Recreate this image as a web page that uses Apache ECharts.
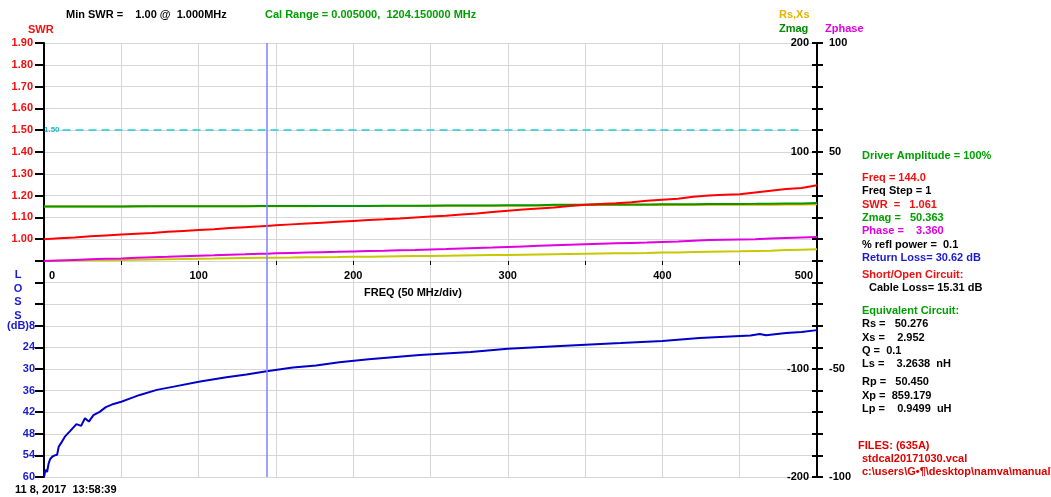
<!DOCTYPE html>
<html>
<head>
<meta charset="utf-8">
<script src="https://cdn.jsdelivr.net/npm/echarts@6/dist/echarts.min.js"></script>
<style>
html, body { margin: 0; padding: 0; background: #ffffff; }
#chart { width: 1051px; height: 497px; }
</style>
</head>
<body>
<div id="chart"></div>
<script>
// Sweep frequencies (MHz); 144.0 is the cursor point
const freqMHz = [0, 10, 20, 30, 40, 50, 60, 70, 80, 90, 100, 110, 120, 130, 140, 144,
  150, 160, 170, 180, 190, 200, 210, 220, 230, 240, 250, 260, 270, 280, 290, 300,
  310, 320, 330, 340, 350, 360, 370, 380, 390, 400, 410, 420, 430, 440, 450, 460,
  470, 480, 490, 500];

const swrValues = [1.000, 1.004, 1.008, 1.013, 1.017, 1.021, 1.025, 1.029, 1.034, 1.038,
  1.042, 1.046, 1.051, 1.055, 1.059, 1.061, 1.064, 1.068, 1.072, 1.076, 1.080, 1.084,
  1.088, 1.091, 1.095, 1.100, 1.104, 1.108, 1.113, 1.118, 1.125, 1.131, 1.136, 1.141,
  1.145, 1.152, 1.158, 1.162, 1.165, 1.170, 1.176, 1.181, 1.186, 1.195, 1.200, 1.204,
  1.206, 1.214, 1.222, 1.230, 1.235, 1.247];

const zmagValues = [50.00, 50.02, 50.04, 50.06, 50.08, 50.10, 50.12, 50.14, 50.17, 50.19,
  50.21, 50.24, 50.27, 50.31, 50.35, 50.363, 50.38, 50.41, 50.44, 50.47, 50.50, 50.53,
  50.57, 50.75, 50.70, 50.72, 50.80, 50.85, 50.90, 50.95, 51.00, 51.05, 51.10, 51.20,
  51.60, 51.65, 51.70, 51.75, 51.80, 51.85, 51.90, 51.95, 52.00, 52.05, 52.30, 52.35,
  52.40, 52.45, 52.55, 52.70, 52.80, 53.20];

const rsValues = [50.00, 50.02, 50.04, 50.05, 50.07, 50.09, 50.11, 50.12, 50.14, 50.16,
  50.17, 50.19, 50.21, 50.24, 50.27, 50.276, 50.29, 50.31, 50.33, 50.35, 50.36, 50.38,
  50.41, 50.57, 50.51, 50.52, 50.59, 50.62, 50.65, 50.68, 50.71, 50.74, 50.77, 50.85,
  51.23, 51.25, 51.28, 51.30, 51.33, 51.35, 51.37, 51.38, 51.40, 51.40, 51.61, 51.63,
  51.64, 51.64, 51.69, 51.75, 51.78, 52.10];

const xsValues = [0, 0.2, 0.4, 0.6, 0.8, 1.0, 1.2, 1.4, 1.6, 1.8, 2.0, 2.2, 2.45, 2.7, 2.9,
  2.952, 3.05, 3.2, 3.4, 3.55, 3.7, 3.9, 4.0, 4.2, 4.35, 4.5, 4.6, 4.8, 5.0, 5.2, 5.4,
  5.6, 5.8, 6.0, 6.2, 6.4, 6.6, 6.8, 7.0, 7.2, 7.4, 7.7, 7.9, 8.2, 8.5, 8.7, 8.9, 9.2,
  9.5, 10.0, 10.4, 10.8];

const phaseValues = [0, 0.25, 0.5, 0.75, 1.0, 1.2, 1.45, 1.7, 1.9, 2.15, 2.4, 2.6, 2.85,
  3.05, 3.3, 3.36, 3.5, 3.7, 3.9, 4.05, 4.2, 4.4, 4.55, 4.7, 4.9, 5.05, 5.3, 5.5, 5.75,
  6.0, 6.2, 6.45, 6.7, 6.95, 7.2, 7.45, 7.7, 7.9, 8.1, 8.3, 8.5, 8.75, 9.0, 9.3, 9.6,
  9.8, 9.9, 10.0, 10.3, 10.6, 10.8, 11.0];

// Return loss trace, sampled more densely at the low end
const lossFreqMHz = [0, 1, 2, 3, 4, 5.5, 7, 8.5, 9.5, 11, 13.5, 17, 21, 24, 26.5, 29, 32,
  36, 40, 45, 50, 55, 62, 73, 84, 101, 118, 131, 144, 161, 176, 191, 210, 243, 276,
  300, 334, 373, 400, 424, 457, 463, 467, 480, 490, 500];
const returnLossDb = [60, 58, 58.6, 56.2, 55, 54.3, 54.0, 53.8, 51.6, 50.6, 48.8, 47.2,
  45.3, 45.8, 43.7, 44.6, 42.8, 41.9, 40.6, 39.7, 39.1, 38.3, 37.2, 35.8, 34.9, 33.5,
  32.3, 31.5, 30.62, 29.6, 29.0, 28.1, 27.3, 26.1, 25.3, 24.4, 23.6, 22.8, 22.2, 21.4,
  20.7, 20.3, 20.6, 20.0, 19.7, 19.2];

// Cursor readout
const CURSOR_FREQ = 144.0;
const SWR_LIMIT = 1.50;
const readout = {
  swr: 1.061, zmag: 50.363, phase: 3.360, reflPower: 0.1, returnLoss: 30.62,
  cableLoss: 15.31, rs: 50.276, xs: 2.952, q: 0.1, ls: 3.2638, rp: 50.450,
  xp: 859.179, lp: 0.9499
};

const FAMILY = '"Liberation Sans", Arial, sans-serif';
const FONT = 'bold 11px ' + FAMILY;
const C_RED = '#f01010', C_GREEN = '#00a000', C_DKGREEN = '#008a00',
  C_MAG = '#e000e0', C_BLUE = '#1a1ad0', C_ORANGE = '#e8b000', C_BLACK = '#000000';

const pairs = (xs, ys) => xs.map((x, i) => [x, ys[i]]);

function txt(text, x, y, color, extra) {
  return {
    type: 'text', x: x, y: y, z: 50,
    style: Object.assign({ text: text, fill: color, font: FONT, verticalAlign: 'middle' }, extra || {})
  };
}

const panelLines = [
  ['Driver Amplitude = 100%', C_GREEN, 862, 156],
  ['Freq = ' + CURSOR_FREQ.toFixed(1), C_RED, 862, 178],
  ['Freq Step = 1', C_BLACK, 862, 191],
  ['SWR  =   ' + readout.swr.toFixed(3), C_RED, 862, 205],
  ['Zmag =   ' + readout.zmag.toFixed(3), C_GREEN, 862, 218],
  ['Phase =    ' + readout.phase.toFixed(3), C_MAG, 862, 231],
  ['% refl power =  ' + readout.reflPower.toFixed(1), C_BLACK, 862, 245],
  ['Return Loss= ' + readout.returnLoss.toFixed(2) + ' dB', C_BLUE, 862, 258],
  ['Short/Open Circuit:', C_RED, 862, 275],
  ['Cable Loss= ' + readout.cableLoss.toFixed(2) + ' dB', C_BLACK, 869, 288],
  ['Equivalent Circuit:', C_GREEN, 862, 311],
  ['Rs =   ' + readout.rs.toFixed(3), C_BLACK, 862, 324],
  ['Xs =    ' + readout.xs.toFixed(3), C_BLACK, 862, 338],
  ['Q =  ' + readout.q.toFixed(1), C_BLACK, 862, 351],
  ['Ls =    ' + readout.ls.toFixed(4) + '  nH', C_BLACK, 862, 364],
  ['Rp =   ' + readout.rp.toFixed(3), C_BLACK, 862, 382],
  ['Xp =  ' + readout.xp.toFixed(3), C_BLACK, 862, 396],
  ['Lp =    ' + readout.lp.toFixed(4) + '  uH', C_BLACK, 862, 409],
  ['FILES: (635A)', '#e00000', 858, 446],
  ['stdcal20171030.vcal', '#e00000', 862, 459],
  ['c:\\users\\G\u2022\u00b6\\desktop\\namva\\manual\\vr', '#e00000', 862, 472]
];

const graphics = [
  txt('Min SWR =    1.00 @  1.000MHz', 66, 15, C_BLACK),
  txt('Cal Range = 0.005000,  1204.150000 MHz', 265, 15, C_GREEN),
  txt('SWR', 28, 30, C_RED),
  txt('Rs,Xs', 779, 15, C_ORANGE),
  txt('Zmag', 779, 29, C_DKGREEN),
  txt('Zphase', 825, 29, C_MAG),
  txt('FREQ (50 MHz/div)', 413, 293, C_BLACK, { align: 'center' }),
  txt('11 8, 2017  13:58:39', 15, 490, C_BLACK),
  txt('L', 18, 275, C_BLUE, { align: 'center' }),
  txt('O', 18, 289, C_BLUE, { align: 'center' }),
  txt('S', 18, 302, C_BLUE, { align: 'center' }),
  txt('S', 18, 316, C_BLUE, { align: 'center' }),
  txt('(dB)', 18, 326, C_BLUE, { align: 'center', backgroundColor: '#ffffff' })
].concat(panelLines.map(l => txt(l[0], l[2], l[3], l[1])));

const chart = echarts.init(document.getElementById('chart'), null, { renderer: 'canvas' });

const gridLine = { show: true, lineStyle: { color: '#d6d6d6', width: 1 } };
const blackLine = { show: true, lineStyle: { color: '#000000', width: 2 } };
const labelBase = { fontWeight: 'bold', fontSize: 11, fontFamily: FAMILY };

function rightAxes(gridIndex, ohmMin, ohmMax, degMin, degMax) {
  return [
    { // Rs, Xs, Zmag (ohms), labels left of the axis
      type: 'value', gridIndex: gridIndex, position: 'right',
      min: ohmMin, max: ohmMax, interval: 20,
      axisLine: blackLine,
      axisTick: { show: true, inside: true, length: 5, lineStyle: { color: '#000000', width: 2 } },
      axisLabel: Object.assign({}, labelBase, {
        inside: true, margin: 8, color: C_BLACK,
        formatter: v => (v !== 0 && v % 100 === 0 ? String(v) : '')
      }),
      splitLine: { show: false }
    },
    { // Zphase (degrees), labels right of the axis
      type: 'value', gridIndex: gridIndex, position: 'right',
      min: degMin, max: degMax, interval: 10,
      axisLine: blackLine,
      axisTick: { show: true, inside: false, length: 6, lineStyle: { color: '#000000', width: 2 } },
      axisLabel: Object.assign({}, labelBase, {
        margin: 12, color: C_BLACK,
        formatter: v => (v !== 0 && v % 50 === 0 ? String(v) : '')
      }),
      splitLine: { show: false }
    }
  ];
}

const cursorLine = {
  silent: true, symbol: 'none', animation: false,
  lineStyle: { color: '#8080ff', type: 'solid', width: 1.5 },
  label: { show: false },
  data: [{ xAxis: CURSOR_FREQ }]
};

chart.setOption({
  animation: false,
  backgroundColor: '#ffffff',
  grid: [
    { left: 44, right: 234, top: 43, height: 218, containLabel: false },
    { left: 44, right: 234, top: 261, bottom: 20, containLabel: false }
  ],
  xAxis: [
    {
      type: 'value', gridIndex: 0, min: 0, max: 500, interval: 50,
      axisLine: { show: true, lineStyle: { color: '#c8c8c8', width: 1 } },
      axisTick: { show: true, length: 4, lineStyle: { color: '#000000' } },
      axisLabel: Object.assign({}, labelBase, {
        color: C_BLACK, margin: 9,
        alignMinLabel: 'left', alignMaxLabel: 'right',
        formatter: v => (v % 100 !== 0 ? '' : v === 0 ? '{lo|0}' : v === 500 ? '{hi|500}' : String(v)),
        rich: {
          lo: Object.assign({}, labelBase, { color: C_BLACK, padding: [0, 0, 0, 5] }),
          hi: Object.assign({}, labelBase, { color: C_BLACK, padding: [0, 4, 0, 0] })
        }
      }),
      splitLine: gridLine
    },
    {
      type: 'value', gridIndex: 1, min: 0, max: 500, interval: 50,
      axisLine: { show: true, lineStyle: { color: '#d6d6d6', width: 1 } },
      axisTick: { show: false }, axisLabel: { show: false },
      splitLine: gridLine
    }
  ],
  yAxis: [
    { // SWR, upper half
      type: 'value', gridIndex: 0, position: 'left', min: 0.9, max: 1.9, interval: 0.1,
      axisLine: blackLine,
      axisTick: { show: true, length: 9, lineStyle: { color: '#000000', width: 2 } },
      axisLabel: Object.assign({}, labelBase, {
        color: C_RED, margin: 11,
        formatter: v => (v > 0.995 ? v.toFixed(2) : '')
      }),
      splitLine: gridLine
    },
    ...rightAxes(0, 0, 200, 0, 100),
    { // Return loss (dB), lower half, growing downward
      type: 'value', gridIndex: 1, position: 'left', min: 0, max: 60, interval: 6, inverse: true,
      axisLine: blackLine,
      axisTick: { show: true, length: 9, lineStyle: { color: '#000000', width: 2 } },
      axisLabel: Object.assign({}, labelBase, {
        color: C_BLUE, margin: 9,
        formatter: v => (v >= 18 ? String(v) : '')
      }),
      splitLine: gridLine
    },
    ...rightAxes(1, -200, 0, -100, 0)
  ],
  series: [
    {
      name: 'Xs', type: 'line', xAxisIndex: 0, yAxisIndex: 1, showSymbol: false, silent: true,
      clip: false, data: pairs(freqMHz, xsValues), lineStyle: { color: '#c8c800', width: 2 }
    },
    {
      name: 'Zphase', type: 'line', xAxisIndex: 0, yAxisIndex: 2, showSymbol: false, silent: true,
      clip: false, data: pairs(freqMHz, phaseValues), lineStyle: { color: C_MAG, width: 2 }
    },
    {
      name: 'Rs', type: 'line', xAxisIndex: 0, yAxisIndex: 1, showSymbol: false, silent: true,
      data: pairs(freqMHz, rsValues), lineStyle: { color: '#f0a800', width: 2 }
    },
    {
      name: 'Zmag', type: 'line', xAxisIndex: 0, yAxisIndex: 1, showSymbol: false, silent: true,
      data: pairs(freqMHz, zmagValues), lineStyle: { color: '#009a00', width: 2 },
      markLine: cursorLine
    },
    {
      name: 'SWR', type: 'line', xAxisIndex: 0, yAxisIndex: 0, showSymbol: false, silent: true,
      data: pairs(freqMHz, swrValues), lineStyle: { color: '#ff0000', width: 2 },
      markLine: {
        silent: true, symbol: 'none', animation: false,
        lineStyle: { color: '#20d0d8', type: [8, 5], width: 1.5 },
        label: {
          show: true, position: 'start', distance: 3, formatter: SWR_LIMIT.toFixed(2),
          color: '#20b8c0', fontSize: 8, fontWeight: 'bold', fontFamily: FAMILY
        },
        data: [[{ coord: [12, SWR_LIMIT] }, { coord: [489, SWR_LIMIT] }]]
      }
    },
    {
      name: 'Return Loss', type: 'line', xAxisIndex: 1, yAxisIndex: 3, showSymbol: false,
      silent: true, clip: false, data: pairs(lossFreqMHz, returnLossDb),
      lineStyle: { color: '#0000c8', width: 2 },
      markLine: cursorLine
    }
  ],
  graphic: graphics
});
</script>
</body>
</html>
